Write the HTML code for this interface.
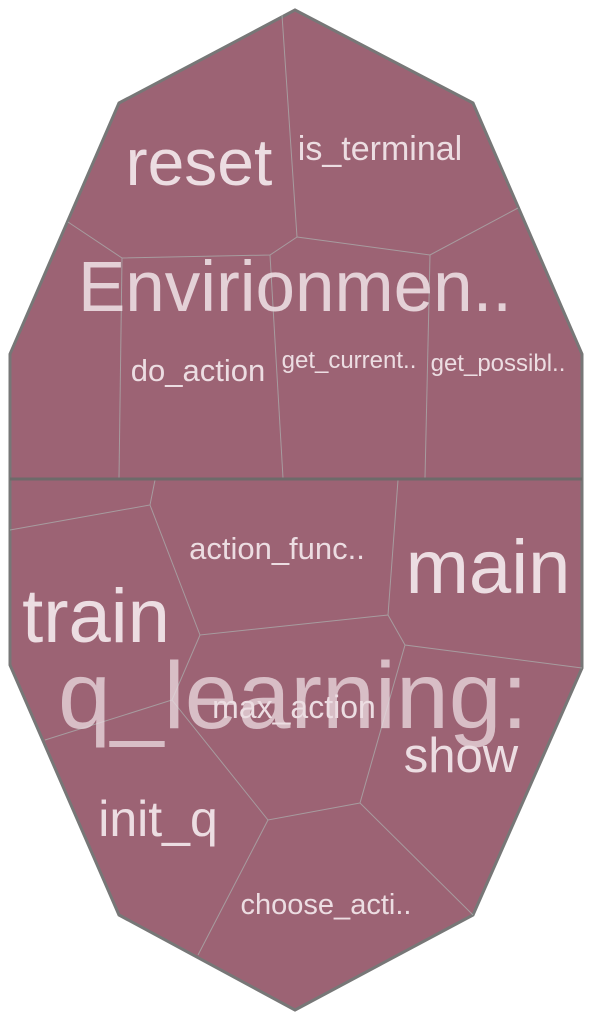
<!DOCTYPE html>
<html><head><style>
body{margin:0;background:#fff;width:592px;height:1020px;overflow:hidden}
text{font-family:"Liberation Sans",sans-serif;fill:#ecdde2}
</style></head><body>
<svg width="592" height="1020" viewBox="0 0 592 1020">
<polygon points="295,10 473,103 582,354 582,668 473,915 295,1010 119,915 10,665 10,354 119,103" fill="#9c6374" stroke="#777" stroke-width="3"/>
<g fill="none" stroke="#aaa" stroke-width="1" opacity="0.8">
<polyline points="282,15 297,237 270,255 122,258 68,222"/>
<polyline points="297,237 430,255 518,208"/>
<polyline points="122,258 119,478"/>
<polyline points="270,255 283,478"/>
<polyline points="430,255 425,478"/>
<polyline points="155,480 150,505 10,530"/>
<polyline points="150,505 200,635 388,615 398,480"/>
<polyline points="388,615 405,645 582,668"/>
<polyline points="405,645 360,803 473,915"/>
<polyline points="200,635 172,700 45,740"/>
<polyline points="172,700 268,820 360,803"/>
<polyline points="268,820 198,955"/>
</g>
<line x1="10" y1="479" x2="582" y2="479" stroke="#6e6a6a" stroke-width="3"/>
<text x="199" y="185" font-size="66" text-anchor="middle">reset</text>
<text x="380" y="160" font-size="34" text-anchor="middle">is_terminal</text>
<text x="295" y="311" font-size="71" text-anchor="middle" opacity="0.9">Envirionmen..</text>
<text x="198" y="381" font-size="31" text-anchor="middle">do_action</text>
<text x="349" y="368" font-size="24" text-anchor="middle">get_current..</text>
<text x="498" y="371" font-size="24" text-anchor="middle">get_possibl..</text>
<text x="277" y="559" font-size="31" text-anchor="middle">action_func..</text>
<text x="488" y="593" font-size="76" text-anchor="middle">main</text>
<text x="96" y="642" font-size="76" text-anchor="middle">train</text>
<text x="293" y="728" font-size="95" text-anchor="middle" opacity="0.75">q_learning:</text>
<text x="294" y="718" font-size="32" text-anchor="middle">max_action</text>
<text x="461" y="772" font-size="49" text-anchor="middle">show</text>
<text x="158" y="836" font-size="50" text-anchor="middle">init_q</text>
<text x="326" y="914" font-size="29" text-anchor="middle">choose_acti..</text>
</svg>
</body></html>
